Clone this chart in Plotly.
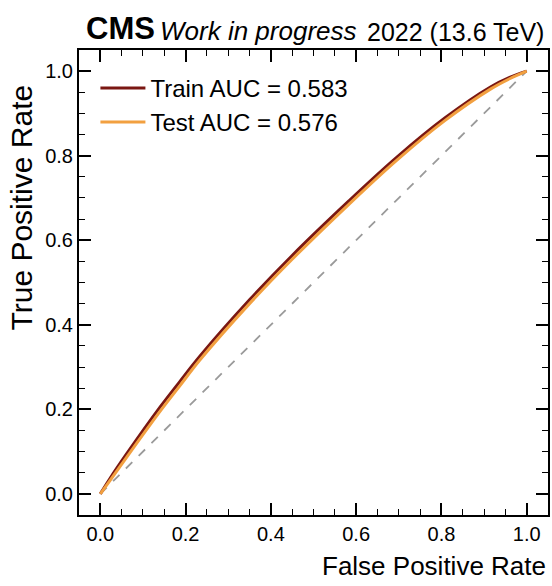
import plotly.graph_objects as go

# ROC curves (false positive rate, true positive rate)
train_fpr = [0.0, 0.023, 0.062, 0.14, 0.186, 0.233, 0.35, 0.45, 0.583, 0.695, 0.808, 0.916, 0.96, 1.0]
train_tpr = [0.0, 0.037, 0.095, 0.205, 0.265, 0.325, 0.459, 0.564, 0.693, 0.796, 0.889, 0.963, 0.985, 1.0]
test_fpr = [0.0, 0.023, 0.062, 0.14, 0.186, 0.233, 0.35, 0.45, 0.583, 0.695, 0.808, 0.916, 0.96, 1.0]
test_tpr = [0.0, 0.032, 0.087, 0.195, 0.255, 0.316, 0.450, 0.555, 0.685, 0.789, 0.883, 0.958, 0.982, 1.0]
train_auc = 0.583
test_auc = 0.576

tick_vals = [0.0, 0.2, 0.4, 0.6, 0.8, 1.0]
tick_text = ["0.0", "0.2", "0.4", "0.6", "0.8", "1.0"]

FONT = "Liberation Sans, Arial, Helvetica, sans-serif"

fig = go.Figure()
# chance line
fig.add_trace(go.Scatter(
    x=[0, 1], y=[0, 1], mode="lines", showlegend=False,
    line=dict(color="#9a9a9a", width=1.8, dash="dash"),
))
fig.add_trace(go.Scatter(
    x=train_fpr, y=train_tpr, mode="lines", line_shape="spline",
    name=f"Train AUC = {train_auc:.3f}",
    line=dict(color="#7a1712", width=3),
))
fig.add_trace(go.Scatter(
    x=test_fpr, y=test_tpr, mode="lines", line_shape="spline",
    name=f"Test AUC = {test_auc:.3f}",
    line=dict(color="#f2a040", width=3),
))

axis_common = dict(
    range=[-0.05, 1.05], tickvals=tick_vals, ticktext=tick_text,
    ticks="inside", ticklen=12, tickwidth=1.5, tickcolor="black",
    showline=True, linecolor="black", linewidth=2, mirror="allticks",
    showgrid=False, zeroline=False,
    tickfont=dict(family=FONT, size=20, color="black"),
    minor=dict(ticks="inside", ticklen=6, tickwidth=1.2, tickcolor="black", dtick=0.05),
)
fig.update_xaxes(**axis_common)
fig.update_yaxes(**axis_common)

fig.update_layout(
    width=552, height=586,
    margin=dict(l=79, r=2, t=50, b=71),
    paper_bgcolor="white", plot_bgcolor="white",
    font=dict(family=FONT, color="black"),
    legend=dict(
        x=0.035, y=0.966, xanchor="left", yanchor="top",
        bgcolor="rgba(0,0,0,0)", font=dict(family=FONT, size=24, color="black"),
        itemwidth=45, tracegroupgap=0,
    ),
    annotations=[
        dict(text="<b>CMS</b>", xref="paper", yref="paper", x=0.0106, y=1.0,
             xanchor="left", yanchor="bottom", showarrow=False,
             font=dict(family=FONT, size=31, color="black"), yshift=2),
        dict(text="<i>Work in progress</i>", xref="paper", yref="paper", x=0.168, y=1.0,
             xanchor="left", yanchor="bottom", showarrow=False,
             font=dict(family=FONT, size=26, color="black"), yshift=2),
        dict(text="2022 (13.6 TeV)", xref="paper", yref="paper", x=0.9958, y=1.0,
             xanchor="right", yanchor="bottom", showarrow=False,
             font=dict(family=FONT, size=25, color="black"), yshift=2),
        dict(text="False Positive Rate", xref="paper", yref="paper", x=1.0, y=0,
             xanchor="right", yanchor="top", showarrow=False,
             font=dict(family=FONT, size=26, color="black"), yshift=-34),
        dict(text="True Positive Rate", xref="paper", yref="paper", x=0, y=1.0,
             xanchor="right", yanchor="top", showarrow=False, textangle=-90,
             font=dict(family=FONT, size=30, color="black"),
             xshift=-40, yshift=-33),
    ],
)

fig.write_html("out.html")
